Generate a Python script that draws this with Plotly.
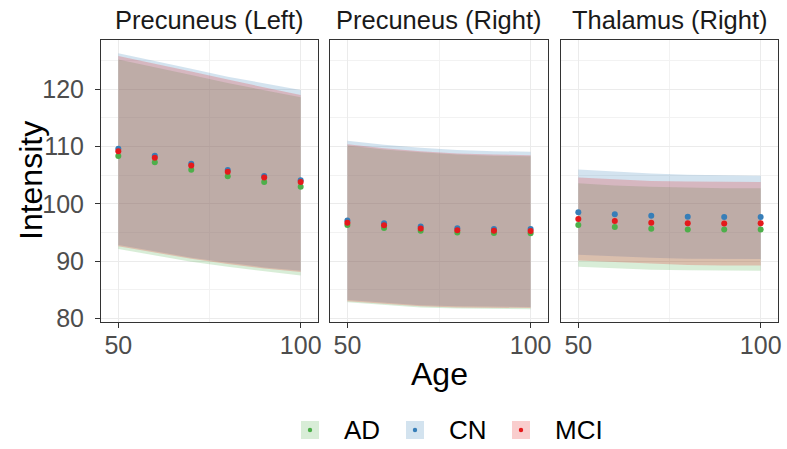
import plotly.graph_objects as go

W, H = 787, 449

ages = [50, 60, 70, 80, 90, 100]
groups = ["AD", "CN", "MCI"]
group_colors = ["#4DAF4A", "#377EB8", "#E41A1C"]
regions = ["Precuneus (Left)", "Precuneus (Right)", "Thalamus (Right)"]
y_ticks = [80, 90, 100, 110, 120]
x_ticks = [50, 100]

# Precuneus (Left)
precL_AD_mean = [108.35, 107.25, 105.95, 104.8, 103.8, 103.0]
precL_CN_mean = [109.6, 108.4, 107.0, 105.9, 104.85, 104.1]
precL_MCI_mean = [109.2, 108.05, 106.7, 105.6, 104.6, 103.8]
precL_AD_lo = [92.1, 91.0, 89.9, 89.0, 88.2, 87.5]
precL_CN_lo = [92.8, 91.7, 90.6, 89.7, 88.9, 88.3]
precL_MCI_lo = [92.6, 91.5, 90.4, 89.5, 88.7, 88.1]
precL_AD_hi = [125.2, 123.9, 122.5, 121.1, 119.8, 118.6]
precL_CN_hi = [126.3, 125.0, 123.6, 122.2, 121.0, 119.9]
precL_MCI_hi = [125.8, 124.5, 123.1, 121.7, 120.3, 119.0]

# Precuneus (Right)
precR_AD_mean = [96.3, 95.8, 95.3, 95.0, 94.9, 94.85]
precR_CN_mean = [97.1, 96.6, 96.05, 95.75, 95.6, 95.6]
precR_MCI_mean = [96.7, 96.25, 95.7, 95.4, 95.3, 95.25]
precR_AD_lo = [82.8, 82.3, 81.9, 81.7, 81.6, 81.6]
precR_CN_lo = [83.2, 82.7, 82.3, 82.1, 82.0, 82.0]
precR_MCI_lo = [83.0, 82.5, 82.1, 81.9, 81.8, 81.8]
precR_AD_hi = [110.2, 109.5, 109.0, 108.6, 108.4, 108.3]
precR_CN_hi = [111.0, 110.3, 109.8, 109.4, 109.2, 109.1]
precR_MCI_hi = [110.4, 109.7, 109.2, 108.8, 108.6, 108.5]

# Thalamus (Right)
thalR_AD_mean = [96.3, 95.95, 95.65, 95.5, 95.5, 95.5]
thalR_CN_mean = [98.55, 98.2, 97.9, 97.75, 97.7, 97.7]
thalR_MCI_mean = [97.35, 97.0, 96.7, 96.6, 96.55, 96.6]
thalR_AD_lo = [89.0, 88.7, 88.5, 88.4, 88.3, 88.3]
thalR_CN_lo = [91.1, 90.8, 90.6, 90.4, 90.35, 90.35]
thalR_MCI_lo = [90.1, 89.8, 89.5, 89.3, 89.25, 89.25]
thalR_AD_hi = [103.6, 103.2, 103.0, 102.8, 102.7, 102.7]
thalR_CN_hi = [106.0, 105.6, 105.3, 105.1, 105.0, 104.9]
thalR_MCI_hi = [104.6, 104.3, 104.0, 103.9, 103.8, 103.8]

panel_data = [
    [(precL_AD_mean, precL_AD_lo, precL_AD_hi),
     (precL_CN_mean, precL_CN_lo, precL_CN_hi),
     (precL_MCI_mean, precL_MCI_lo, precL_MCI_hi)],
    [(precR_AD_mean, precR_AD_lo, precR_AD_hi),
     (precR_CN_mean, precR_CN_lo, precR_CN_hi),
     (precR_MCI_mean, precR_MCI_lo, precR_MCI_hi)],
    [(thalR_AD_mean, thalR_AD_lo, thalR_AD_hi),
     (thalR_CN_mean, thalR_CN_lo, thalR_CN_hi),
     (thalR_MCI_mean, thalR_MCI_lo, thalR_MCI_hi)],
]


def rgba(hx, a):
    hx = hx.lstrip("#")
    r, g, b = int(hx[0:2], 16), int(hx[2:4], 16), int(hx[4:6], 16)
    return f"rgba({r},{g},{b},{a})"


def px(x):
    return x / W


def py(y):
    return 1 - y / H


FONT = "Liberation Sans, Arial, sans-serif"
panel_px = [(101, 318), (330, 548), (561, 778)]
y_dom = [py(321.5), py(39.5)]
x_rng = [45.25, 104.75]
y_rng = [79.45, 128.7]

fig = go.Figure()

for p, region in enumerate(regions):
    xa = "x" if p == 0 else f"x{p+1}"
    ya = "y" if p == 0 else f"y{p+2}"
    for g, grp in enumerate(groups):
        mean, lo, hi = panel_data[p][g]
        fig.add_trace(go.Scatter(x=ages, y=lo, mode="lines", line=dict(width=0),
                                 xaxis=xa, yaxis=ya, showlegend=False, hoverinfo="skip"))
        fig.add_trace(go.Scatter(x=ages, y=hi, mode="lines", line=dict(width=0),
                                 fill="tonexty", fillcolor=rgba(group_colors[g], 0.22),
                                 xaxis=xa, yaxis=ya, showlegend=False, hoverinfo="skip"))
    for g, grp in enumerate(groups):
        mean, lo, hi = panel_data[p][g]
        fig.add_trace(go.Scatter(x=ages, y=mean, mode="markers",
                                 marker=dict(color=group_colors[g], size=6),
                                 xaxis=xa, yaxis=ya, showlegend=False, name=grp))

axis_common = dict(
    showline=True, mirror=True, linecolor="#333333", linewidth=1,
    ticks="outside", ticklen=5, tickcolor="#333333", tickwidth=1,
    showgrid=True, gridcolor="#EBEBEB", gridwidth=1.2,
    zeroline=False, automargin=False,
    tickfont=dict(family=FONT, size=25, color="#4D4D4D"),
)
minor_y = dict(dtick=5, tick0=80, showgrid=True, gridcolor="#F2F2F2", gridwidth=0.7, ticks="")
minor_x = dict(dtick=25, tick0=50, showgrid=True, gridcolor="#F2F2F2", gridwidth=0.7, ticks="")

layout = dict(
    width=W, height=H,
    margin=dict(l=0, r=0, t=0, b=0, autoexpand=False),
    paper_bgcolor="white", plot_bgcolor="white",
    showlegend=False,
    font=dict(family=FONT),
)

for p in range(3):
    key = "xaxis" if p == 0 else f"xaxis{p+1}"
    x0, x1 = panel_px[p]
    layout[key] = dict(axis_common, domain=[px(x0), px(x1)], range=x_rng,
                       tickvals=x_ticks, anchor="y" if p == 0 else f"y{p+2}",
                       minor=minor_x, ticklabelstandoff=-4)

layout["yaxis"] = dict(axis_common, domain=y_dom, range=y_rng, tickvals=y_ticks,
                       anchor="x", minor=minor_y, ticklabelstandoff=6)
for p in (1, 2):
    layout[f"yaxis{p+2}"] = dict(axis_common, domain=y_dom, range=y_rng, tickvals=y_ticks,
                                 showticklabels=False, ticks="", anchor=f"x{p+1}",
                                 minor=minor_y)

fig.update_layout(**layout)

annotations = []
for p, region in enumerate(regions):
    x0, x1 = panel_px[p]
    annotations.append(dict(text=region, x=px((x0 + x1) / 2), y=py(20.5), xref="paper", yref="paper",
                            xanchor="center", yanchor="middle", showarrow=False,
                            font=dict(family=FONT, size=25.5, color="#1A1A1A")))
annotations.append(dict(text="Age", x=px(439.5), y=py(374), xref="paper", yref="paper",
                        xanchor="center", yanchor="middle", showarrow=False,
                        font=dict(family=FONT, size=32, color="black")))
annotations.append(dict(text="Intensity", x=px(31), y=py(181), xref="paper", yref="paper",
                        xanchor="center", yanchor="middle", showarrow=False, textangle=-90,
                        font=dict(family=FONT, size=32, color="black")))

shapes = []
key_left = [301, 406, 512]
for g, grp in enumerate(groups):
    kx = key_left[g]
    shapes.append(dict(type="rect", xref="paper", yref="paper",
                       x0=px(kx), x1=px(kx + 18), y0=py(439), y1=py(421),
                       fillcolor=rgba(group_colors[g], 0.22), line=dict(width=0)))
    cx, cy = kx + 9, 430
    shapes.append(dict(type="circle", xref="paper", yref="paper",
                       x0=px(cx - 2.2), x1=px(cx + 2.2), y0=py(cy + 2.2), y1=py(cy - 2.2),
                       fillcolor=group_colors[g], line=dict(width=0)))
    annotations.append(dict(text=grp, x=px(kx + 41), y=py(430), xref="paper", yref="paper",
                            xanchor="left", yanchor="middle", showarrow=False,
                            font=dict(family=FONT, size=26, color="black")))

fig.update_layout(annotations=annotations, shapes=shapes)

fig.write_html("out.html", config={"displayModeBar": False},
               post_script="document.body.style.margin='0px';")
